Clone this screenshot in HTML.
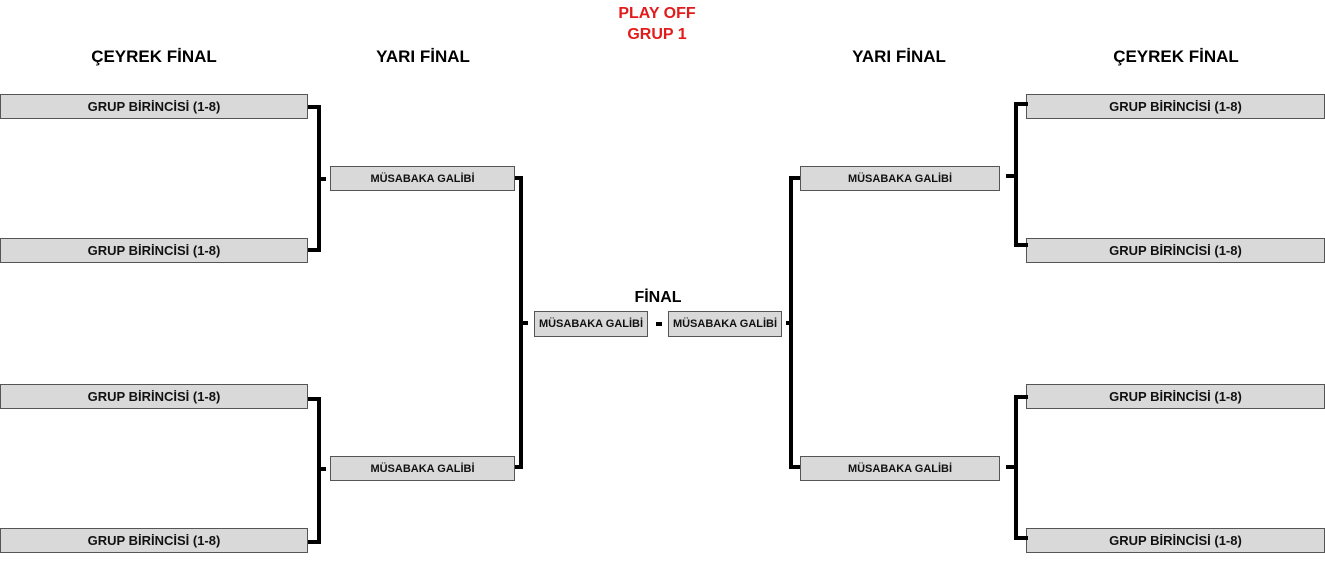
<!DOCTYPE html>
<html><head><meta charset="utf-8"><style>
body{margin:0;width:1325px;height:577px;background:#fff;position:relative;overflow:hidden;font-family:"Liberation Sans",Arial,sans-serif;}
.b{position:absolute;box-sizing:border-box;background:#d9d9d9;border:1px solid #555;font-weight:bold;font-size:13px;color:#111;text-align:center;display:flex;align-items:center;justify-content:center;}
.l{position:absolute;background:#000;}
.h{position:absolute;font-weight:bold;font-size:17px;color:#000;transform:translateX(-50%);white-space:nowrap;}
.s{font-size:11px;}
.f{font-size:11px;}
</style></head><body>
<div class="h" style="left:657px;top:3px;color:#e21b1b;font-size:16px;text-align:center;line-height:21px">PLAY OFF<br>GRUP 1</div>
<div class="h" style="left:154px;top:47px">ÇEYREK FİNAL</div>
<div class="h" style="left:423px;top:47px">YARI FİNAL</div>
<div class="h" style="left:899px;top:47px">YARI FİNAL</div>
<div class="h" style="left:1176px;top:47px">ÇEYREK FİNAL</div>
<div class="h" style="left:658px;top:289px;font-size:16px">FİNAL</div>

<div class="b" style="left:0;top:94px;width:308px;height:25px">GRUP BİRİNCİSİ (1-8)</div>
<div class="b" style="left:0;top:238px;width:308px;height:25px">GRUP BİRİNCİSİ (1-8)</div>
<div class="b" style="left:0;top:384px;width:308px;height:25px">GRUP BİRİNCİSİ (1-8)</div>
<div class="b" style="left:0;top:528px;width:308px;height:25px">GRUP BİRİNCİSİ (1-8)</div>
<div class="b" style="left:1026px;top:94px;width:299px;height:25px">GRUP BİRİNCİSİ (1-8)</div>
<div class="b" style="left:1026px;top:238px;width:299px;height:25px">GRUP BİRİNCİSİ (1-8)</div>
<div class="b" style="left:1026px;top:384px;width:299px;height:25px">GRUP BİRİNCİSİ (1-8)</div>
<div class="b" style="left:1026px;top:528px;width:299px;height:25px">GRUP BİRİNCİSİ (1-8)</div>

<div class="b s" style="left:330px;top:166px;width:185px;height:25px">MÜSABAKA GALİBİ</div>
<div class="b s" style="left:330px;top:456px;width:185px;height:25px">MÜSABAKA GALİBİ</div>
<div class="b s" style="left:800px;top:166px;width:200px;height:25px">MÜSABAKA GALİBİ</div>
<div class="b s" style="left:800px;top:456px;width:200px;height:25px">MÜSABAKA GALİBİ</div>
<div class="b f" style="left:534px;top:311px;width:114px;height:26px">MÜSABAKA GALİBİ</div>
<div class="b f" style="left:668px;top:311px;width:114px;height:26px">MÜSABAKA GALİBİ</div>
<div class="l" style="left:656px;top:322px;width:6px;height:4px"></div>

<div class="l" style="left:308px;top:105px;width:13px;height:4px"></div>
<div class="l" style="left:308px;top:248px;width:13px;height:4px"></div>
<div class="l" style="left:317px;top:105px;width:4px;height:147px"></div>
<div class="l" style="left:317px;top:177px;width:9px;height:4px"></div>
<div class="l" style="left:308px;top:397px;width:13px;height:4px"></div>
<div class="l" style="left:308px;top:540px;width:13px;height:4px"></div>
<div class="l" style="left:317px;top:397px;width:4px;height:147px"></div>
<div class="l" style="left:317px;top:467px;width:9px;height:4px"></div>
<div class="l" style="left:515px;top:176px;width:8px;height:4px"></div>
<div class="l" style="left:515px;top:465px;width:8px;height:4px"></div>
<div class="l" style="left:519px;top:176px;width:4px;height:293px"></div>
<div class="l" style="left:523px;top:321px;width:5px;height:4px"></div>
<div class="l" style="left:786px;top:321px;width:4px;height:4px"></div>
<div class="l" style="left:789px;top:176px;width:4px;height:293px"></div>
<div class="l" style="left:789px;top:176px;width:11px;height:4px"></div>
<div class="l" style="left:789px;top:465px;width:11px;height:4px"></div>
<div class="l" style="left:1006px;top:174px;width:8px;height:4px"></div>
<div class="l" style="left:1014px;top:102px;width:4px;height:145px"></div>
<div class="l" style="left:1014px;top:102px;width:14px;height:4px"></div>
<div class="l" style="left:1014px;top:243px;width:14px;height:4px"></div>
<div class="l" style="left:1006px;top:465px;width:8px;height:4px"></div>
<div class="l" style="left:1014px;top:395px;width:4px;height:145px"></div>
<div class="l" style="left:1014px;top:395px;width:14px;height:4px"></div>
<div class="l" style="left:1014px;top:536px;width:14px;height:4px"></div>
</body></html>
